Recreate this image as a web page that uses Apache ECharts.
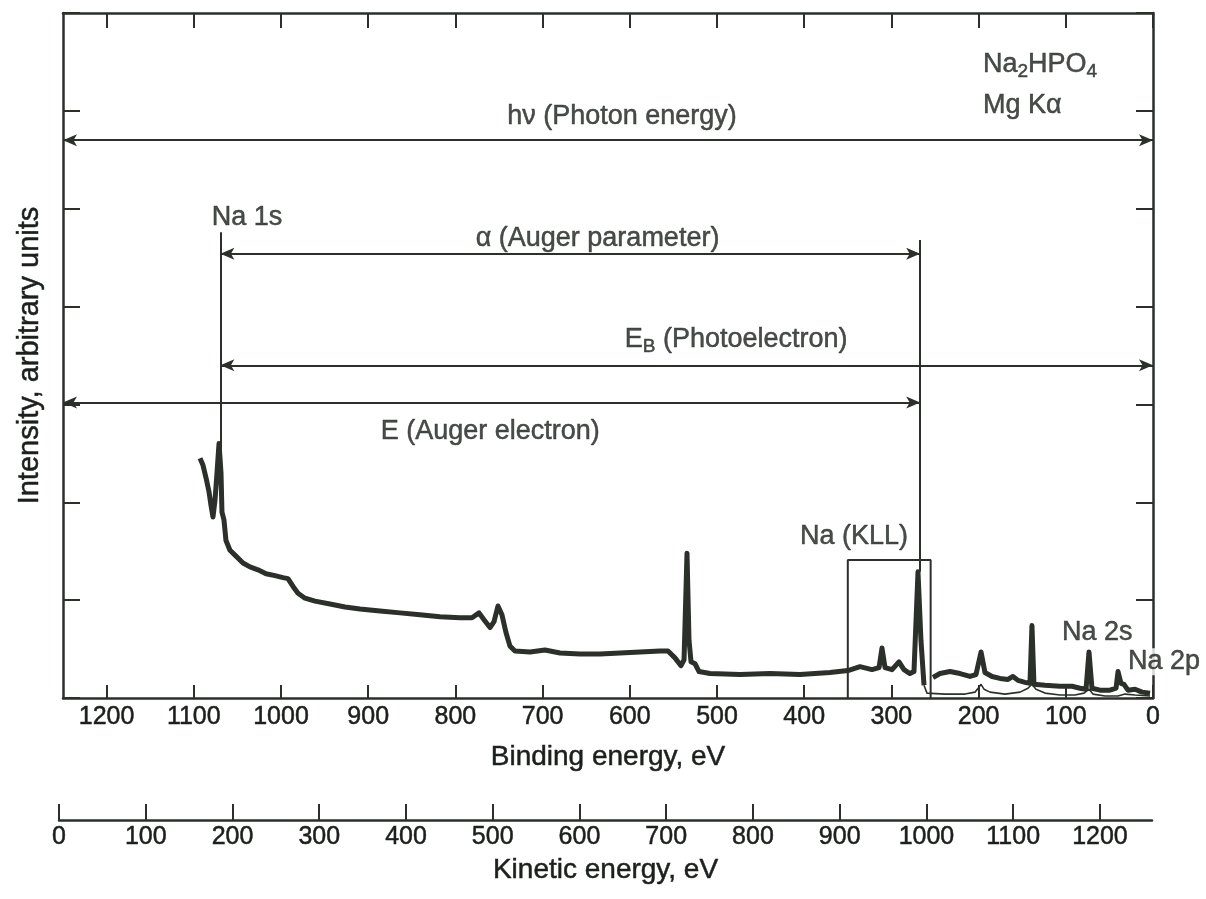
<!DOCTYPE html>
<html>
<head>
    <meta charset="UTF-8">
    <title>Na2HPO4 survey spectrum</title>
    <script src="https://cdn.jsdelivr.net/npm/echarts@6/dist/echarts.min.js"></script>
    <style>html, body { margin: 0; background: #fff; }</style>
</head>
<body>
<div id="main" style="width: 1206px;height:899px;"></div>
<script type="text/javascript">
    var INK = '#2b302b';
    var TEXT = '#1c201c';
    var FONT = 'Liberation Sans';

    // thick survey trace: binding energy (eV) and intensity (a.u.), null = break
    var mainBE = [1092.9, 1089.5, 1086.0, 1082.6, 1080.3, 1078.0, 1075.7, 1073.4, 1071.1, 1068.8, 1067.7, 1065.4, 1063.1,
        1058.5, 1051.6, 1043.6, 1035.6, 1026.4, 1017.2, 1006.9, 997.7, 992.0, 986.2, 980.5, 972.5, 961.0, 943.8, 926.6,
        909.4, 886.5, 863.5, 840.6, 817.7, 794.7, 781.0, 772.9, 767.2, 760.3, 755.7, 751.2, 746.6, 742.0, 737.4, 731.7,
        714.5, 697.3, 680.0, 657.1, 634.2, 611.2, 588.3, 565.4, 556.2, 548.2, 541.3, 537.8, 534.4, 532.1, 529.8, 525.2,
        520.6, 508.0, 473.6, 439.2, 404.8, 370.4, 349.8, 336.0, 322.3, 314.2, 310.8, 307.3, 299.3, 291.3, 285.6, 278.7,
        274.1, 269.5, 266.1, 262.6, null,
        252.3, 244.3, 232.8, 221.3, 209.9, 203.0, 197.2, 192.7, 184.6, 175.5, 166.3, 160.6, 154.8, 146.8, 141.1, 138.8,
        136.5, 123.9, 106.7, 92.9, 83.7, 76.8, 73.4, 70.0, 60.8, 49.3, 42.4, 40.1, 36.7, 33.3, 28.7, 20.6, 12.6, 3.4];
    var mainI = [2.45, 2.38, 2.25, 2.11, 1.97, 1.85, 2.02, 2.30, 2.60, 2.30, 1.90, 1.82, 1.61,
        1.51, 1.45, 1.38, 1.34, 1.31, 1.27, 1.25, 1.23, 1.22, 1.14, 1.07, 1.02, 0.99, 0.96, 0.93,
        0.91, 0.89, 0.87, 0.85, 0.83, 0.82, 0.82, 0.87, 0.80, 0.72, 0.78, 0.94, 0.85, 0.67, 0.53, 0.48,
        0.47, 0.49, 0.46, 0.45, 0.45, 0.46, 0.47, 0.48, 0.48, 0.41, 0.33, 0.39, 1.48, 0.59, 0.37, 0.35,
        0.27, 0.25, 0.24, 0.25, 0.24, 0.26, 0.28, 0.32, 0.29, 0.31, 0.51, 0.31, 0.29, 0.37, 0.29, 0.25,
        0.27, 1.29, 0.59, 0.13, null,
        0.21, 0.25, 0.27, 0.25, 0.22, 0.24, 0.47, 0.26, 0.22, 0.20, 0.19, 0.22, 0.18, 0.16, 0.15, 0.74,
        0.14, 0.13, 0.12, 0.12, 0.10, 0.09, 0.47, 0.10, 0.08, 0.08, 0.10, 0.27, 0.15, 0.14, 0.08, 0.09, 0.06, 0.05];

    // thin lower trace below the Na (KLL) region
    var lowBE = [262.6, 259.2, 238.5, 215.6, 204.1, 199.5, 197.2, 193.8, 186.9, 169.7, 152.5, 143.4, 138.8, 134.2,
        123.9, 106.7, 89.5, 79.1, 73.4, 68.8, 55.0, 40.1, 32.1, 20.6, 3.4];
    var lowI = [0.13, 0.05, 0.04, 0.04, 0.06, 0.11, 0.14, 0.09, 0.06, 0.04, 0.06, 0.10, 0.14, 0.09,
        0.05, 0.03, 0.03, 0.05, 0.09, 0.04, 0.02, 0.02, 0.04, 0.03, 0.02];

    // axis ticks
    var bindingTicks = [0, 100, 200, 300, 400, 500, 600, 700, 800, 900, 1000, 1100, 1200];
    var kineticTicks = [0, 100, 200, 300, 400, 500, 600, 700, 800, 900, 1000, 1100, 1200];

    // energy arrows: [from BE, to BE, level]
    var arrowFrom = [1250, 1069.5, 1069.5, 1250];
    var arrowTo = [0, 267, 0, 267];
    var arrowLevel = [5.70, 4.54, 3.40, 3.02];

    // peak marker lines: [BE, top, bottom]
    var markerBE = [1069.5, 267];
    var markerTop = [4.76, 4.68];
    var markerBottom = [1.90, 1.29];

    // Na (KLL) window
    var kllBE = [350, 350, 255, 255];
    var kllI = [0, 1.41, 1.41, 0];

    // annotation texts
    var noteText = ['h\u03bd (Photon energy)', '\u03b1 (Auger parameter)', '{t|E}{s|B}{t| (Photoelectron)}',
        'E (Auger electron)', 'Na 1s', 'Na (KLL)', 'Na 2s', 'Na 2p', '{t|Na}{s|2}{t|HPO}{s|4}', 'Mg K\u03b1'];
    var noteBE = [609, 637, 478, 760, 1039, 343, 64, -12.6, 195, 195];
    var noteI = [5.94, 4.70, 3.66, 2.72, 4.91, 1.65, 0.67, 0.37, 6.47, 6.05];
    var noteAlign = ['center', 'center', 'center', 'center', 'center', 'center', 'center', 'center', 'left', 'left'];

    function zip(a, b) {
        var out = [];
        for (var i = 0; i < a.length; i++) {
            out.push(a[i] === null ? [null, null] : [a[i], b[i]]);
        }
        return out;
    }

    var arrowLines = [];
    for (var i = 0; i < arrowFrom.length; i++) {
        arrowLines.push([{coord: [arrowFrom[i], arrowLevel[i]]}, {coord: [arrowTo[i], arrowLevel[i]]}]);
    }
    for (var j = 0; j < markerBE.length; j++) {
        arrowLines.push([{coord: [markerBE[j], markerTop[j]], symbol: 'none'},
            {coord: [markerBE[j], markerBottom[j]], symbol: 'none'}]);
    }

    var notes = [];
    for (var k = 0; k < noteText.length; k++) {
        notes.push({
            value: [noteBE[k], noteI[k]],
            name: noteText[k],
            label: {align: noteAlign[k], backgroundColor: noteText[k] === 'Na 2p' ? '#fff' : 'transparent'}
        });
    }

    var axisLine = {show: true, onZero: false, lineStyle: {color: INK, width: 2.5}};
    var tickStyle = {color: INK, width: 2};
    var plain = function (v) { return String(v); };
    // scanned print looks a little heavier than the plain font
    var ink = {color: TEXT, fontFamily: FONT, textBorderColor: TEXT, textBorderWidth: 0.5};

    var chart = echarts.init(document.getElementById('main'));
    chart.setOption({
        animation: false,
        backgroundColor: '#fff',
        textStyle: {fontFamily: FONT, color: TEXT},
        grid: [
            {left: 63, right: 53, top: 13, bottom: 201, outerBoundsMode: 'none'},
            {left: 59, right: 54, top: 778, height: 42, outerBoundsMode: 'none'}
        ],
        xAxis: [
            {
                gridIndex: 0, type: 'value', inverse: true, min: 0, max: 1250, interval: 100, position: 'bottom',
                axisLine: axisLine,
                axisTick: {show: true, inside: true, length: 13, lineStyle: tickStyle, customValues: bindingTicks},
                axisLabel: Object.assign({fontSize: 25, margin: 7, formatter: plain, customValues: bindingTicks}, ink),
                splitLine: {show: false},
                name: 'Binding energy, eV', nameLocation: 'middle', nameGap: 45,
                nameTextStyle: Object.assign({fontSize: 28}, ink)
            },
            {
                gridIndex: 0, type: 'value', inverse: true, min: 0, max: 1250, interval: 100, position: 'top',
                axisLine: axisLine,
                axisTick: {show: true, inside: true, length: 15, lineStyle: tickStyle, customValues: bindingTicks},
                axisLabel: {show: false},
                splitLine: {show: false}
            },
            {
                gridIndex: 1, type: 'value', min: 0, max: 1260, interval: 100, position: 'bottom',
                axisLine: axisLine,
                axisTick: {show: true, inside: true, length: 16, lineStyle: tickStyle, customValues: kineticTicks},
                axisLabel: Object.assign({fontSize: 25, margin: 5, formatter: plain, customValues: kineticTicks}, ink),
                splitLine: {show: false},
                name: 'Kinetic energy, eV', nameLocation: 'middle', nameGap: 36,
                nameTextStyle: Object.assign({fontSize: 28}, ink)
            }
        ],
        yAxis: [
            {
                gridIndex: 0, type: 'value', min: 0, max: 7, interval: 1, position: 'left',
                axisLine: axisLine,
                axisTick: {show: true, inside: true, length: 17, lineStyle: tickStyle},
                axisLabel: {show: false},
                splitLine: {show: false},
                name: 'Intensity, arbitrary units', nameLocation: 'middle', nameGap: 19,
                nameTextStyle: Object.assign({fontSize: 29}, ink)
            },
            {
                gridIndex: 0, type: 'value', min: 0, max: 7, interval: 1, position: 'right',
                axisLine: axisLine,
                axisTick: {show: true, inside: true, length: 17, lineStyle: tickStyle},
                axisLabel: {show: false},
                splitLine: {show: false}
            },
            {gridIndex: 1, type: 'value', min: 0, max: 1, show: false}
        ],
        series: [
            {
                name: 'survey', type: 'line', xAxisIndex: 0, yAxisIndex: 0,
                data: zip(mainBE, mainI), showSymbol: false, connectNulls: false,
                lineStyle: {color: INK, width: 5, join: 'round'},
                markLine: {
                    silent: true, animation: false,
                    symbol: ['arrow', 'arrow'], symbolSize: [9, 14],
                    label: {show: false},
                    lineStyle: {color: INK, width: 2, type: 'solid'},
                    data: arrowLines
                }
            },
            {
                name: 'lower', type: 'line', xAxisIndex: 0, yAxisIndex: 0,
                data: zip(lowBE, lowI), showSymbol: false,
                lineStyle: {color: INK, width: 1.6}
            },
            {
                name: 'kll', type: 'line', xAxisIndex: 0, yAxisIndex: 0,
                data: zip(kllBE, kllI), showSymbol: false,
                lineStyle: {color: INK, width: 2}
            },
            {
                name: 'notes', type: 'scatter', xAxisIndex: 0, yAxisIndex: 0, clip: false,
                symbolSize: 0, data: notes, z: 10,
                label: Object.assign({
                    show: true, position: 'inside', fontSize: 27,
                    formatter: function (p) { return p.name; },
                    rich: {
                        t: Object.assign({fontSize: 27}, ink),
                        s: Object.assign({fontSize: 19, padding: [14, 0, 0, 0]}, ink)
                    }
                }, ink)
            }
        ]
    });
</script>
</body>
</html>
